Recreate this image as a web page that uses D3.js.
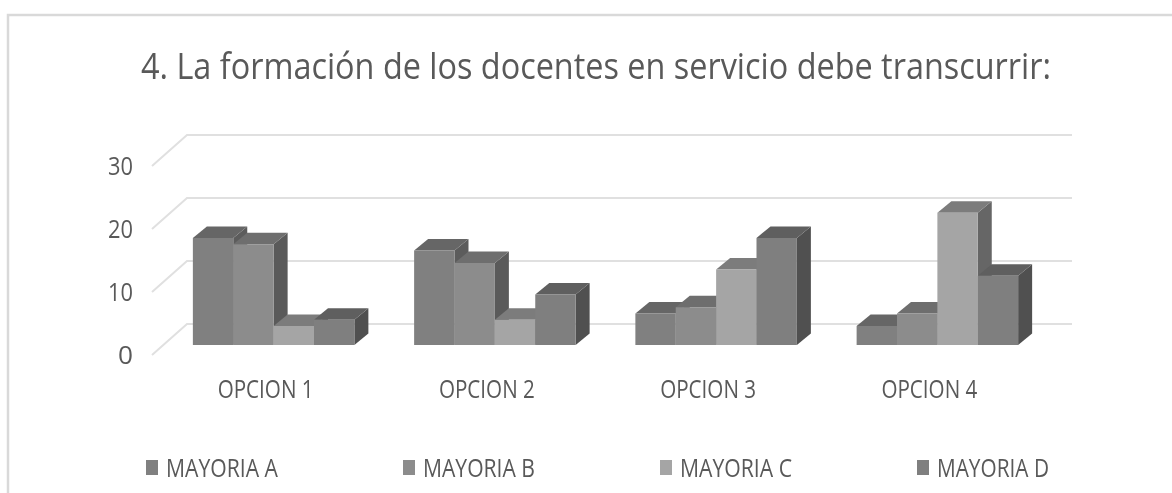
<!DOCTYPE html>
<html>
<head>
<meta charset="utf-8">
<script src="https://cdnjs.cloudflare.com/ajax/libs/d3/7.8.5/d3.min.js"></script>
<style>
html,body{margin:0;padding:0;background:#fff}
svg{display:block;filter:blur(0.5px)}
text{font-family:"Open Sans",sans-serif;fill:#595959}
</style>
</head>
<body>
<script>
"use strict";

// data
var categories = ["OPCION 1","OPCION 2","OPCION 3","OPCION 4"];
var seriesNames = ["MAYORIA A","MAYORIA B","MAYORIA C","MAYORIA D"];
var mayoriaA = [17,15,5,3];
var mayoriaB = [16,13,6,5];
var mayoriaC = [3,4,12,21];
var mayoriaD = [4,8,17,11];
var yTicks = [0,10,20,30];
var titleText = "4. La formación de los docentes en servicio debe transcurrir:";

var values = [mayoriaA,mayoriaB,mayoriaC,mayoriaD];
var frontCol = ["#808080","#8c8c8c","#a5a5a5","#7f7f7f"];
var topCol = ["#666666","#6e6e6e","#7c7c7c","#5f5f5f"];
var sideCol = ["#5c5c5c","#5a5a5a","#666666","#505050"];

var width = 1172, height = 493;
var svg = d3.select("body").append("svg").attr("width",width).attr("height",height);

// frame, only top and left show in the crop
svg.append("path").attr("d","M8,493V15H1172").attr("fill","none").attr("stroke","#d9d9d9").attr("stroke-width",2.5);

svg.append("text").attr("x",141).attr("y",79)
  .attr("textLength",910).attr("lengthAdjust","spacingAndGlyphs")
  .style("font-size","36px").text(titleText);

var y = d3.scaleLinear().domain([0,30]).range([355,166]);   // on the front edge of the wall
var wallLeft = 152, wallDx = 35, wallDy = -31;
var wallRight = 1072;

var grid = svg.append("g");
yTicks.forEach(function(t){
  grid.append("path")
    .attr("d",d3.line()([[wallLeft,y(t)],[wallLeft+wallDx,y(t)+wallDy],[wallRight,y(t)+wallDy]]))
    .attr("fill","none").attr("stroke","#e0e0e0").attr("stroke-width",2);
  svg.append("text").attr("x",133).attr("y",y(t)+9)
    .attr("text-anchor","end")
    .attr("textLength",t==0?15:25).attr("lengthAdjust","spacingAndGlyphs")
    .style("font-size","26px").text(t);
});

// bars sit in the middle of the floor
var base = 345, depthX = 14, depthY = -11.5;
var h = function(v){ return y(0)-y(v); };

var x0 = d3.scaleBand().domain(categories).range([163,1048]).paddingInner(0.27).paddingOuter(0.135);
var x1 = d3.scaleBand().domain(d3.range(seriesNames.length)).range([0,x0.bandwidth()]);

categories.forEach(function(c,ci){
  var g = svg.append("g");
  seriesNames.forEach(function(s,si){
    var l = x0(c)+x1(si), r = l+x1.bandwidth(), t = base-h(values[si][ci]);
    var poly = function(p,col){ g.append("path").attr("d",d3.line()(p)+"Z").attr("fill",col); };
    poly([[r,base],[r+depthX,base+depthY],[r+depthX,t+depthY],[r,t]],sideCol[si]);
    poly([[l,t],[l+depthX,t+depthY],[r+depthX,t+depthY],[r,t]],topCol[si]);
    poly([[l,base],[l,t],[r,t],[r,base]],frontCol[si]);
  });
  svg.append("text").attr("x",x0(c)+x0.bandwidth()/2-8).attr("y",398)
    .attr("text-anchor","middle")
    .attr("textLength",96).attr("lengthAdjust","spacingAndGlyphs")
    .style("font-size","25px").text(c);
});

// legend
var legendX = d3.scalePoint().domain(seriesNames).range([146,917]);
seriesNames.forEach(function(s,i){
  svg.append("rect").attr("x",legendX(s)).attr("y",460).attr("width",12).attr("height",15).attr("fill",frontCol[i]);
  svg.append("text").attr("x",legendX(s)+20).attr("y",477)
    .attr("textLength",112).attr("lengthAdjust","spacingAndGlyphs")
    .style("font-size","25px").text(s);
});
</script>
</body>
</html>
